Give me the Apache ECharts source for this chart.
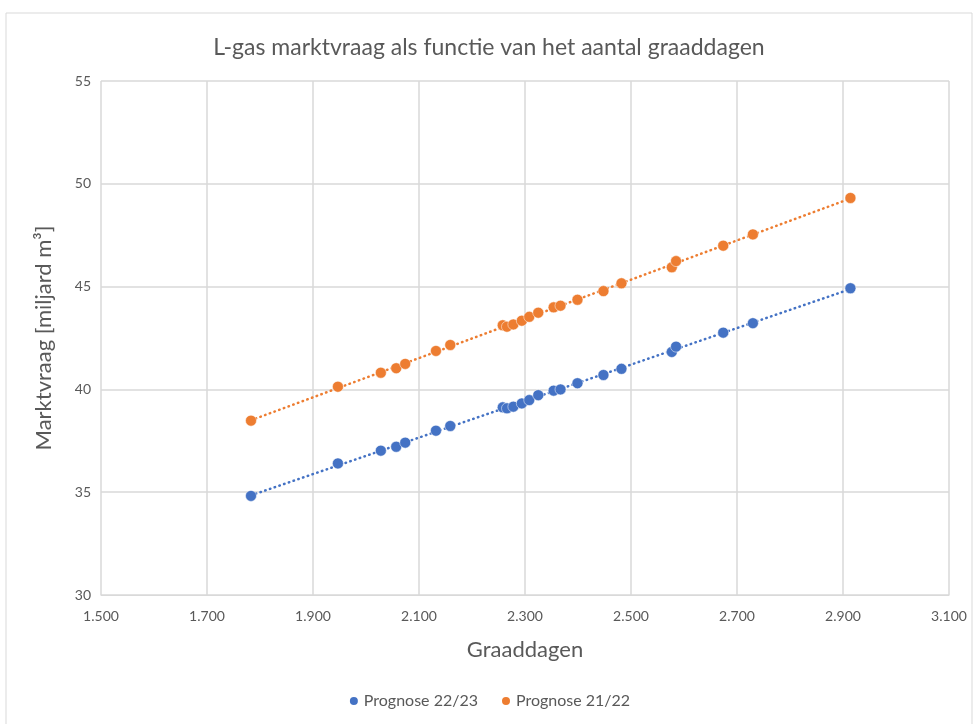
<!DOCTYPE html>
<html>
<head>
<meta charset="utf-8">
<script src="https://cdn.jsdelivr.net/npm/echarts@6/dist/echarts.min.js"></script>
<style>
  html, body { margin: 0; padding: 0; background: #fff; }
  #chart { width: 978px; height: 724px; }
</style>
</head>
<body>
<div id="chart"></div>
<script>
// graaddagen (x) en marktvraag in miljard m3 (y)
const graaddagen = [1783, 1947, 2028, 2057, 2074, 2132, 2159, 2258, 2266, 2278, 2294, 2308,
                    2325, 2354, 2367, 2399, 2448, 2482, 2577, 2585, 2674, 2730, 2914];
const prognose2223 = [34.82, 36.40, 37.02, 37.21, 37.41, 37.99, 38.22, 39.13, 39.08, 39.16, 39.32, 39.48,
                      39.72, 39.94, 40.00, 40.30, 40.70, 41.00, 41.82, 42.08, 42.76, 43.22, 44.92];
const prognose2122 = [38.48, 40.13, 40.81, 41.03, 41.24, 41.87, 42.16, 43.12, 43.05, 43.16, 43.34, 43.53,
                      43.73, 43.99, 44.07, 44.36, 44.78, 45.16, 45.94, 46.24, 46.99, 47.54, 49.31];
const seriesNames = ['Prognose 22/23', 'Prognose 21/22'];
const colors = ['#4472C4', '#ED7D31'];

const textColor = '#595959';
const font = 'Lato, "Noto Sans", sans-serif';

// lineaire trendlijn (kleinste kwadraten), zoals in Excel
function trend(xs, ys) {
    let n = xs.length, sx = 0, sy = 0, sxy = 0, sxx = 0;
    for (let i = 0; i < n; i++) {
        sx += xs[i]; sy += ys[i]; sxy += xs[i] * ys[i]; sxx += xs[i] * xs[i];
    }
    const b = (n * sxy - sx * sy) / (n * sxx - sx * sx);
    const a = (sy - b * sx) / n;
    const x0 = Math.min(...xs), x1 = Math.max(...xs);
    return [[x0, a + b * x0], [x1, a + b * x1]];
}

function pairs(xs, ys) {
    return xs.map((x, i) => [x, ys[i]]);
}

const allY = [prognose2223, prognose2122];
const series = [];
allY.forEach((ys, i) => {
    series.push({
        name: seriesNames[i] + ' trend',
        type: 'line',
        data: trend(graaddagen, ys),
        symbol: 'none',
        silent: true,
        z: 1,
        lineStyle: { color: colors[i], width: 2.5, type: [0.5, 4.5], cap: 'round' }
    });
});
allY.forEach((ys, i) => {
    series.push({
        name: seriesNames[i],
        type: 'scatter',
        data: pairs(graaddagen, ys),
        symbol: 'circle',
        symbolSize: 11,
        z: 3,
        itemStyle: { color: colors[i], opacity: 1, borderColor: '#ffffff', borderWidth: 0.5 }
    });
});

let chart = echarts.init(document.getElementById('chart'));
chart.setOption({
    animation: false,
    textStyle: { fontFamily: font },
    title: {
        text: 'L-gas marktvraag als functie van het aantal graaddagen',
        left: 'center',
        top: 31,
        textStyle: { color: textColor, fontSize: 23, fontWeight: 'normal', fontFamily: font }
    },
    graphic: [{
        type: 'rect',
        shape: { x: 6, y: 13, width: 966, height: 720 },
        style: { fill: 'none', stroke: '#d9d9d9', lineWidth: 1 },
        silent: true
    }],
    legend: {
        data: seriesNames,
        bottom: 10,
        left: 'center',
        icon: 'circle',
        itemWidth: 10,
        itemHeight: 10,
        itemGap: 22,
        itemStyle: { opacity: 1 },
        textStyle: { color: textColor, fontSize: 16, fontFamily: font }
    },
    grid: { left: 101, right: 29, top: 81, bottom: 129 },
    xAxis: {
        type: 'value',
        min: 1500,
        max: 3100,
        interval: 200,
        name: 'Graaddagen',
        nameLocation: 'middle',
        nameGap: 44,
        nameTextStyle: { color: textColor, fontSize: 22, fontFamily: font },
        axisLine: { show: true, lineStyle: { color: '#d9d9d9' } },
        axisTick: { show: false },
        splitLine: { show: true, lineStyle: { color: '#d9d9d9', width: 1.5 } },
        axisLabel: {
            color: textColor, fontSize: 14, margin: 14,
            formatter: v => (v / 1000).toFixed(3)
        }
    },
    yAxis: {
        type: 'value',
        min: 30,
        max: 55,
        interval: 5,
        name: 'Marktvraag [miljard m³]',
        nameLocation: 'middle',
        nameGap: 46,
        nameTextStyle: { color: textColor, fontSize: 22, fontFamily: font },
        axisLine: { show: false },
        axisTick: { show: false },
        splitLine: { show: true, lineStyle: { color: '#d9d9d9', width: 1.5 } },
        axisLabel: { color: textColor, fontSize: 14, margin: 10 }
    },
    series: series
});
</script>
</body>
</html>
